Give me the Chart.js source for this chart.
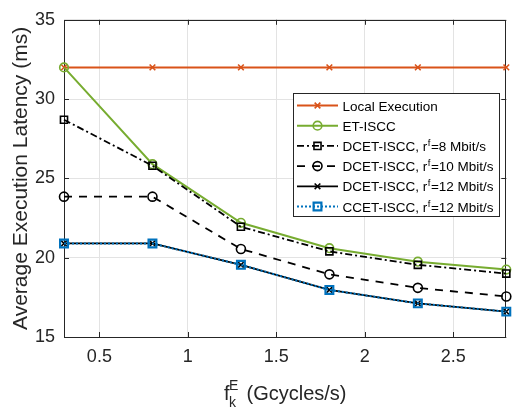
<!DOCTYPE html>
<html>
<head>
<meta charset="utf-8">
<script src="https://cdn.jsdelivr.net/npm/chart.js@4.4.1/dist/chart.umd.min.js"></script>
<style>
  html, body { margin: 0; padding: 0; background: #fff; }
  #wrap { width: 514px; height: 409px; }
</style>
</head>
<body>
<div id="wrap"><canvas id="latencyChart" width="514" height="409"></canvas></div>
<script>
// Values
const freqValues = [0.3, 0.8, 1.3, 1.8, 2.3, 2.8];
const localExec  = [32, 32, 32, 32, 32, 32];
const etIscc     = [32, 25.9, 22.2, 20.6, 19.75, 19.25];
const dcet8      = [28.7, 25.8, 21.95, 20.4, 19.55, 19.0];
const dcet10     = [23.85, 23.85, 20.55, 18.95, 18.1, 17.55];
const dcet12     = [20.9, 20.9, 19.55, 17.97, 17.12, 16.6];
const ccet12     = [20.9, 20.9, 19.55, 17.97, 17.12, 16.6];

const xTicks = [0.5, 1, 1.5, 2, 2.5];
const yTicks = [15, 20, 25, 30, 35];

// legend labels: [before superscript, superscript, after]
const legendLabels = [
    ['Local Execution', '', ''],
    ['ET-ISCC', '', ''],
    ['DCET-ISCC, r', 'f', '=8 Mbit/s'],
    ['DCET-ISCC, r', 'f', '=10 Mbit/s'],
    ['DCET-ISCC, r', 'f', '=12 Mbit/s'],
    ['CCET-ISCC, r', 'f', '=12 Mbit/s']
];

const FONT = '"Liberation Sans", Arial, Helvetica, sans-serif';
const AXIS_COLOR = '#262626';

function toPoints(ys) {
    return ys.map((y, i) => ({ x: freqValues[i], y: y }));
}

// style for each series (same order as legendLabels)
const seriesStyles = [
    { data: localExec, color: '#D95319', dash: [], point: 'crossRot', radius: 4, width: 2 },
    { data: etIscc, color: '#77AC30', dash: [], point: 'circle', radius: 4.3, width: 2 },
    { data: dcet8, color: '#000000', dash: [7, 3, 2, 3], point: 'rect', radius: 5, width: 1.8 },
    { data: dcet10, color: '#000000', dash: [8, 7], point: 'circle', radius: 4.5, width: 1.8 },
    { data: dcet12, color: '#000000', dash: [], point: 'crossRot', radius: 4, width: 1.8 },
    { data: ccet12, color: '#0072BD', dash: [2, 2], point: 'rect', radius: 5.5, width: 2 }
];

const datasets = seriesStyles.map((s, i) => ({
    label: legendLabels[i].join(''),
    data: toPoints(s.data),
    borderColor: s.color,
    borderWidth: s.width,
    borderDash: s.dash,
    pointStyle: s.point,
    pointRadius: s.radius,
    pointBorderColor: s.color,
    pointBorderWidth: i === 5 ? 2.2 : 1.6,
    pointBackgroundColor: 'rgba(0,0,0,0)',
    tension: 0,
    clip: false,
    order: seriesStyles.length - 1 - i
}));

// frame, inward ticks, titles and the legend (MATLAB look)
const matlabPlugin = {
    id: 'matlabPlugin',
    beforeDatasetsDraw(chart) {
        const ctx = chart.ctx;
        const a = chart.chartArea;
        const xs = chart.scales.x, ys = chart.scales.y;
        ctx.save();
        ctx.strokeStyle = AXIS_COLOR;
        ctx.lineWidth = 1;
        ctx.beginPath();
        ctx.rect(Math.round(a.left) + 0.5, Math.round(a.top) + 0.5,
                 Math.round(a.right - a.left) - 1, Math.round(a.bottom - a.top));
        xTicks.forEach(v => {
            const px = Math.round(xs.getPixelForValue(v)) + 0.5;
            ctx.moveTo(px, a.bottom); ctx.lineTo(px, a.bottom - 5);
            ctx.moveTo(px, a.top); ctx.lineTo(px, a.top + 5);
        });
        yTicks.forEach(v => {
            const py = Math.round(ys.getPixelForValue(v)) + 0.5;
            ctx.moveTo(a.left, py); ctx.lineTo(a.left + 5, py);
            ctx.moveTo(a.right, py); ctx.lineTo(a.right - 5, py);
        });
        ctx.stroke();
        ctx.restore();
    },
    afterDraw(chart) {
        const ctx = chart.ctx;
        const a = chart.chartArea;
        ctx.save();
        ctx.fillStyle = AXIS_COLOR;

        // y title
        ctx.save();
        ctx.translate(27, (a.top + a.bottom) / 2);
        ctx.rotate(-Math.PI / 2);
        ctx.font = '21px ' + FONT;
        ctx.textAlign = 'center';
        ctx.textBaseline = 'alphabetic';
        ctx.fillText('Average Execution Latency (ms)', 0, 0);
        ctx.restore();

        // x title: f_k^E (Gcycles/s)
        ctx.textAlign = 'left';
        ctx.textBaseline = 'alphabetic';
        ctx.font = '20px ' + FONT;
        ctx.fillText('f', 224, 400);
        ctx.font = '14px ' + FONT;
        ctx.fillText('E', 229, 390);
        ctx.fillText('k', 229, 407);
        ctx.font = '20px ' + FONT;
        ctx.fillText('(Gcycles/s)', 246.5, 400);

        // legend
        const box = { x: 293.5, y: 93.5, w: 206, h: 123 };
        ctx.fillStyle = '#ffffff';
        ctx.fillRect(box.x, box.y, box.w, box.h);
        ctx.strokeStyle = AXIS_COLOR;
        ctx.lineWidth = 1;
        ctx.strokeRect(box.x, box.y, box.w, box.h);

        const rowY0 = 105.5, rowStep = 20.2;
        seriesStyles.forEach((s, i) => {
            const y = rowY0 + i * rowStep;
            ctx.save();
            ctx.strokeStyle = s.color;
            ctx.lineWidth = s.width;
            ctx.setLineDash(s.dash);
            ctx.beginPath();
            ctx.moveTo(297, y); ctx.lineTo(338, y);
            ctx.stroke();
            ctx.setLineDash([]);
            ctx.lineWidth = datasets[i].pointBorderWidth;
            ctx.strokeStyle = s.color;
            ctx.fillStyle = 'rgba(0,0,0,0)';
            Chart.helpers.drawPoint(ctx, { pointStyle: s.point, radius: s.radius, borderWidth: datasets[i].pointBorderWidth }, 317.5, y);
            ctx.restore();

            const [pre, sup, post] = legendLabels[i];
            ctx.fillStyle = '#000000';
            ctx.textBaseline = 'alphabetic';
            ctx.font = '13.5px ' + FONT;
            let tx = 342.5;
            const base = y + 5;
            ctx.fillText(pre, tx, base);
            tx += ctx.measureText(pre).width;
            if (sup) {
                ctx.font = '9.5px ' + FONT;
                ctx.fillText(sup, tx + 0.5, base - 5);
                tx += ctx.measureText(sup).width + 1;
                ctx.font = '13.5px ' + FONT;
                ctx.fillText(post, tx, base);
            }
        });
        ctx.restore();
    }
};

new Chart(document.getElementById('latencyChart'), {
    type: 'line',
    data: { datasets: datasets },
    options: {
        responsive: false,
        animation: false,
        devicePixelRatio: 1,
        layout: { padding: { top: 13, right: 3, left: 0, bottom: 0 } },
        plugins: {
            legend: { display: false },
            tooltip: { enabled: false }
        },
        scales: {
            x: {
                type: 'linear',
                min: 0.3,
                max: 2.8,
                afterBuildTicks: scale => { scale.ticks = xTicks.map(v => ({ value: v })); },
                afterFit: scale => { scale.height = 72; },
                ticks: {
                    callback: v => String(v),
                    color: AXIS_COLOR,
                    font: { family: FONT, size: 18 },
                    padding: 9,
                    maxRotation: 0,
                    autoSkip: false
                },
                grid: { color: '#e3e3e3', drawTicks: false },
                border: { display: false }
            },
            y: {
                min: 15,
                max: 35,
                afterBuildTicks: scale => { scale.ticks = yTicks.map(v => ({ value: v })); },
                afterFit: scale => { scale.width = 64; },
                ticks: {
                    callback: v => String(v),
                    color: AXIS_COLOR,
                    font: { family: FONT, size: 18 },
                    padding: 9
                },
                grid: { color: '#e3e3e3', drawTicks: false },
                border: { display: false }
            }
        }
    },
    plugins: [matlabPlugin]
});
</script>
</body>
</html>
